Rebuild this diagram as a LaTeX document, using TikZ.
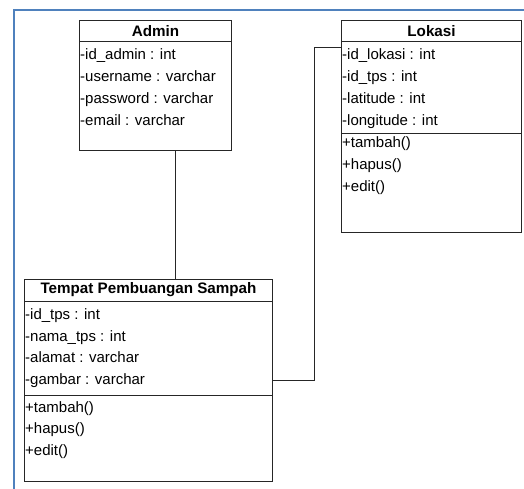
\documentclass[tikz,border=0pt]{standalone}
\usepackage{fontspec}
\setmainfont{Liberation Sans}
\definecolor{framecol}{RGB}{79,129,189}
\tikzset{
	box/.style={draw=black!85, line width=1pt, anchor=north west, inner sep=0pt},
	title/.style={font=\bfseries\fontsize{15.2}{17}\selectfont, inner sep=0pt},
	item/.style={font=\fontsize{15}{17}\selectfont, anchor=base west, inner sep=0pt},
	line/.style={draw=black!85, line width=1pt},
}
\begin{document}
\begin{tikzpicture}[x=1pt, y=-1pt]
		\useasboundingbox (0,0) rectangle (524,489);
		\draw[framecol, line width=2pt] (14,489) -- (14,10) -- (524,10);
		% Admin
		\node[box, minimum width=152, minimum height=130] (admin) at (79,20) {};
		\draw[line] ([yshift=-22]admin.north west) -- ([yshift=-22]admin.north east);
		\node[title] (adminT) at ([yshift=-11]admin.north) {Admin};
		\foreach \t [count=\i] in {-id\_admin : int, -username : varchar, -password : varchar, -email : varchar}
			\node[item] (adminA\i) at ([xshift=1, yshift={-40-21.7*(\i-1)}]admin.north west) {\t};
		% Lokasi
		\node[box, minimum width=180, minimum height=212] (lokasi) at (341,20) {};
		\draw[line] ([yshift=-22]lokasi.north west) -- ([yshift=-22]lokasi.north east);
		\draw[line] ([yshift=-114]lokasi.north west) -- ([yshift=-114]lokasi.north east);
		\node[title] (lokasiT) at ([yshift=-11]lokasi.north) {Lokasi};
		\foreach \t [count=\i] in {-id\_lokasi : int, -id\_tps : int, -latitude : int, -longitude : int}
			\node[item] (lokasiA\i) at ([xshift=1, yshift={-40-21.7*(\i-1)}]lokasi.north west) {\t};
		\foreach \t [count=\i] in {+tambah(), +hapus(), +edit()}
			\node[item] (lokasiM\i) at ([xshift=1, yshift={-128-21.7*(\i-1)}]lokasi.north west) {\t};
		% Tempat Pembuangan Sampah
		\node[box, minimum width=248, minimum height=202] (tps) at (24,279) {};
		\draw[line] ([yshift=-22]tps.north west) -- ([yshift=-22]tps.north east);
		\draw[line] ([yshift=-116]tps.north west) -- ([yshift=-116]tps.north east);
		\node[title] (tpsT) at ([yshift=-11]tps.north) {Tempat Pembuangan Sampah};
		\foreach \t [count=\i] in {-id\_tps : int, -nama\_tps : int, -alamat : varchar, -gambar : varchar}
			\node[item] (tpsA\i) at ([xshift=1, yshift={-40.5-21.7*(\i-1)}]tps.north west) {\t};
		\foreach \t [count=\i] in {+tambah(), +hapus(), +edit()}
			\node[item] (tpsM\i) at ([xshift=1, yshift={-133-21.7*(\i-1)}]tps.north west) {\t};
		% relasi
		\draw[line] ([xshift=20]admin.south) -- ([xshift=20]admin.south |- tps.north);
		\draw[line] ([yshift=-28]lokasi.north west) -- ++(-27,0) |- ([yshift=-101]tps.north east);
	\end{tikzpicture}
\end{document}
